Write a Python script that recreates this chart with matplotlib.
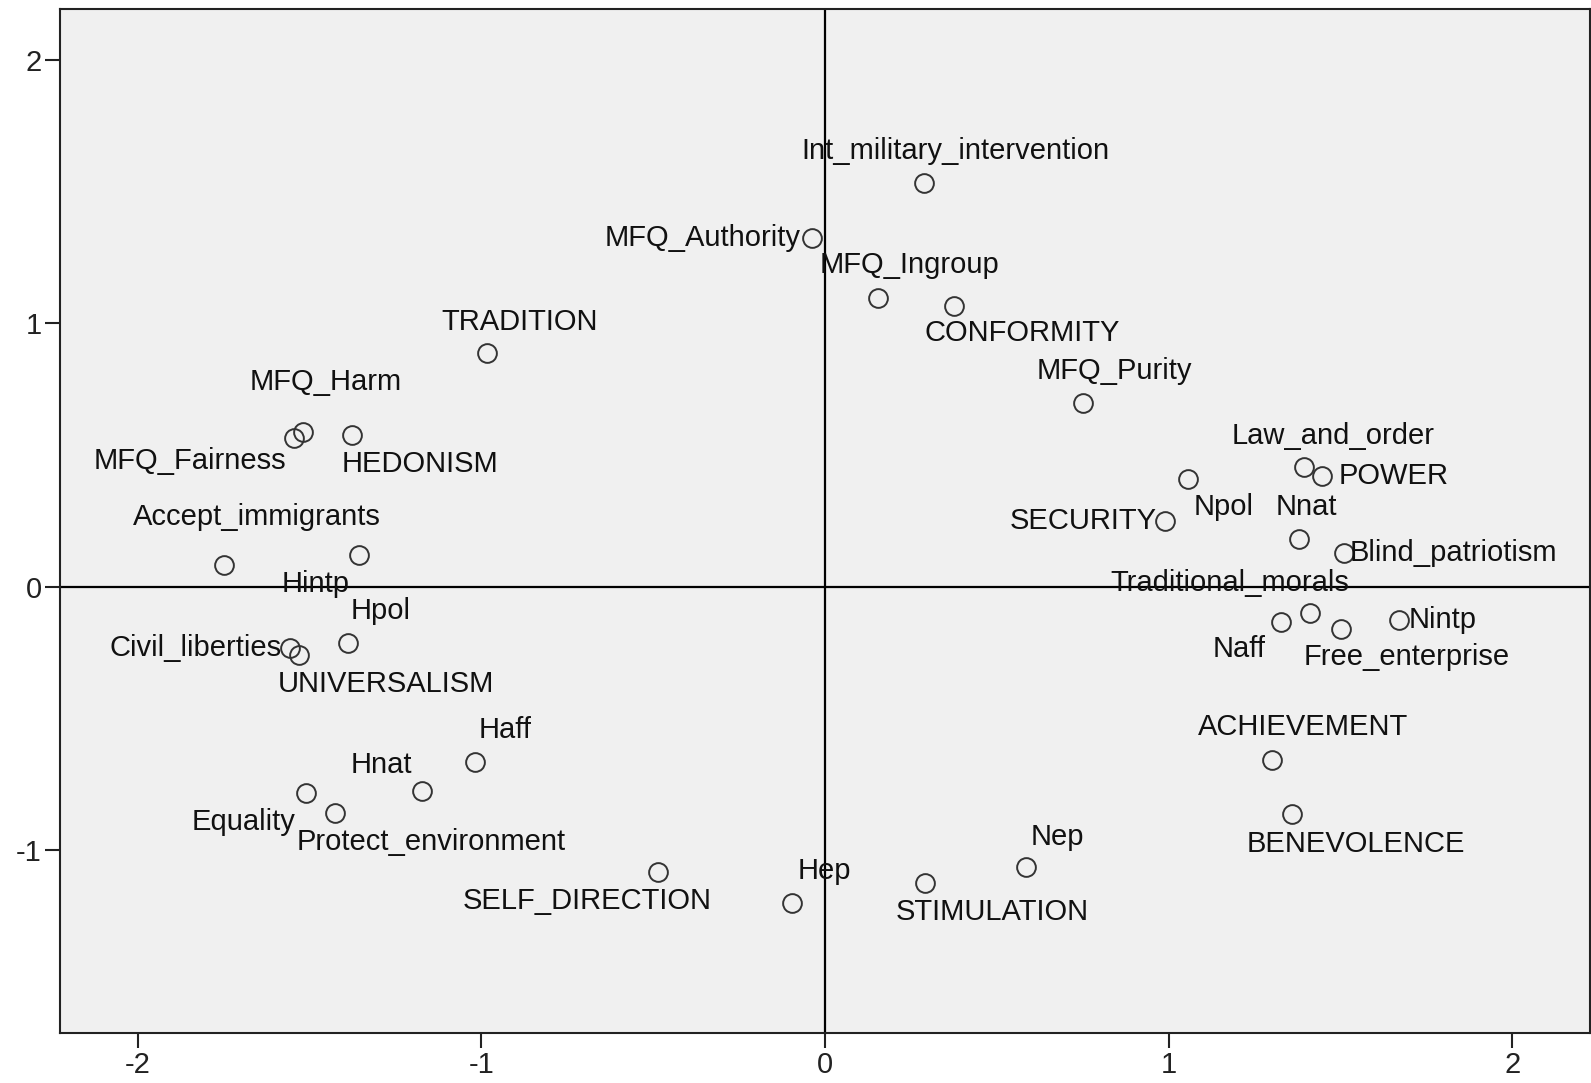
import matplotlib
matplotlib.use("Agg")
import matplotlib.pyplot as plt

plt.rcParams['font.family'] = ['Liberation Sans', 'DejaVu Sans']

names = ["Int_military_intervention", "MFQ_Authority", "MFQ_Ingroup", "CONFORMITY",
         "MFQ_Purity", "TRADITION", "MFQ_Harm", "MFQ_Fairness", "HEDONISM",
         "Accept_immigrants", "Hintp", "Hpol", "Civil_liberties", "UNIVERSALISM",
         "Haff", "Hnat", "Equality", "Protect_environment", "SELF_DIRECTION", "Hep",
         "STIMULATION", "Nep", "ACHIEVEMENT", "BENEVOLENCE", "Law_and_order", "POWER",
         "Npol", "SECURITY", "Nnat", "Blind_patriotism", "Traditional_morals", "Naff",
         "Free_enterprise", "Nintp"]
dim1 = [0.287, -0.038, 0.154, 0.375, 0.750, -0.984, -1.518, -1.545, -1.377,
        -1.749, -1.356, -1.388, -1.557, -1.530, -1.019, -1.173, -1.510, -1.427,
        -0.487, -0.097, 0.290, 0.585, 1.300, 1.359, 1.394, 1.445, 1.055, 0.990,
        1.380, 1.510, 1.412, 1.326, 1.501, 1.669]
dim2 = [1.533, 1.325, 1.098, 1.067, 0.698, 0.886, 0.586, 0.563, 0.575,
        0.082, 0.120, -0.212, -0.231, -0.258, -0.666, -0.777, -0.785, -0.858,
        -1.084, -1.200, -1.127, -1.066, -0.658, -0.865, 0.456, 0.420, 0.409, 0.251,
        0.182, 0.128, -0.099, -0.134, -0.161, -0.126]
x_ticks = [-2, -1, 0, 1, 2]
y_ticks = [-1, 0, 1, 2]

# label layout: alignment and offset (pixels) from the marker
lab_ha = ["center", "right", "center", "center", "center", "center", "center", "right", "center",
          "center", "center", "center", "right", "center", "center", "center", "right", "center",
          "center", "center", "center", "center", "center", "center", "center", "left",
          "center", "right", "center", "left", "center", "center", "center", "left"]
lab_dx = [31.5, -11, 31, 67, 31.5, 32.5, 22, -8, 67,
          32.5, -43, 32, -8, 85, 30, -39.5, -10, 95.5,
          -69, 32, 67, 31, 31, 63, 29, 17,
          36, -8, 7, 6, -79, -40.5, 64.5, 10]
lab_dy = [32, 0, 32, -27, 31, 31, 50, -22, -28,
          47, -28, 31, 0, -29, 32, 26, -28, -29,
          -28, 31, -28, 30, 32, -29, 30, 0,
          -28, 0, 31, 0, 29, -27, -28, 0]

W, H = 1591, 1083
fig = plt.figure(figsize=(W / 100, H / 100), dpi=100)
ax = fig.add_axes([60 / W, 1 - 1033 / H, 1530 / W, 1024 / H])
ax.set_facecolor('#f0f0f0')
ax.set_xlim(-2.226, 2.226)
ax.set_ylim(-1.695, 2.194)

ax.axhline(0, color='black', lw=1.6, zorder=1)
ax.axvline(0, color='black', lw=1.6, zorder=1)

ax.plot(dim1, dim2, linestyle='none', marker='o', markersize=13.5,
        markerfacecolor='none', markeredgecolor='#333333', markeredgewidth=1.4, zorder=3)

s = W / 1568
for n, x, y, ha, dx, dy in zip(names, dim1, dim2, lab_ha, lab_dx, lab_dy):
    ax.annotate(n, (x, y), xytext=(dx * s, dy * s), textcoords='offset pixels',
                ha=ha, va='center', fontsize=21, color='#111111', zorder=4)

ax.set_xticks(x_ticks)
ax.set_yticks(y_ticks)
ax.set_xticklabels([str(t) for t in x_ticks])
ax.set_yticklabels([str(t) for t in y_ticks])
ax.tick_params(direction='out', length=11, width=1.5, labelsize=21, pad=2, colors='#222222')
for sp in ax.spines.values():
    sp.set_linewidth(1.5)
    sp.set_color('#222222')

fig.savefig('out.png', dpi=100)
